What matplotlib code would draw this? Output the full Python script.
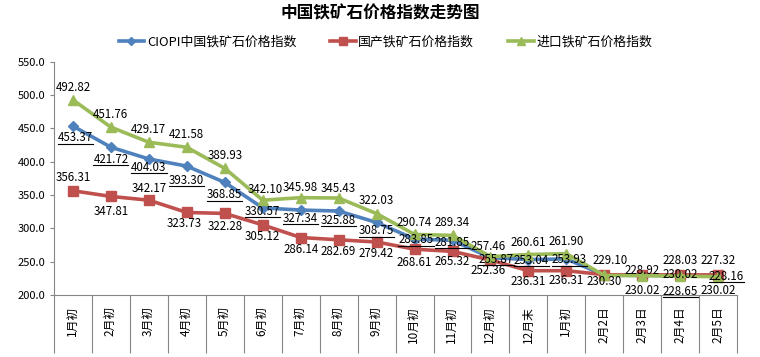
import matplotlib
matplotlib.use("Agg")
import matplotlib.pyplot as plt
from matplotlib.lines import Line2D

plt.rcParams['font.family'] = ['Noto Sans CJK SC', 'DejaVu Sans']

title = "中国铁矿石价格指数走势图"
categories = ["1月初", "2月初", "3月初", "4月初", "5月初", "6月初", "7月初", "8月初", "9月初",
              "10月初", "11月初", "12月初", "12月末", "1月初", "2月2日", "2月3日", "2月4日", "2月5日"]
series_names = ["CIOPI中国铁矿石价格指数", "国产铁矿石价格指数", "进口铁矿石价格指数"]

ciopi = [453.37, 421.72, 404.03, 393.30, 368.85, 330.57, 327.34, 325.88, 308.75,
         283.85, 281.85, 255.87, 253.04, 253.93, 229.6, 229.3, 228.65, 228.16]
ciopi_labeled = [True] * 14 + [False, False, True, True]
domestic = [356.31, 347.81, 342.17, 323.73, 322.28, 305.12, 286.14, 282.69, 279.42,
            268.61, 265.32, 252.36, 236.31, 236.31, 230.30, 230.02, 230.02, 230.02]
imported = [492.82, 451.76, 429.17, 421.58, 389.93, 342.10, 345.98, 345.43, 322.03,
            290.74, 289.34, 257.46, 260.61, 261.90, 229.10, 228.92, 228.03, 227.32]

yticks = [200, 250, 300, 350, 400, 450, 500, 550]

# label offsets (points)
ciopi_off = [(2, -8.5), (0, -8.5), (0, -6), (0, -10), (0, -9), (0, -2.5), (0, -6), (0, -6.5), (0, -6),
             (1, -0.5), (0, -1.5), (4, -1), (2, -0.5), (2, -0.5), (0, 0), (0, 0), (0, -11), (6, 0)]
dom_off = [(0, 9.5), (0, -10.5), (0, 8.5), (-2, -8), (0, -9.5), (0, -8.5), (0, -8.5), (0, -8.5), (0, -8.5),
           (0, -9.5), (0, -7.5), (-2, -7.5), (0, -8), (0, -7), (0, -5), (0, -11), (0, 0), (0, -11)]
imp_off = [(0, 9), (0, 9), (0, 9), (0, 9), (0, 9), (2, 8), (0, 7), (0, 7), (0, 9.5),
           (0, 8.5), (0, 9.5), (-2, 7.5), (0, 8.5), (0, 8.5), (4, 11), (0, 4), (0, 11.5), (0, 12)]

c_blue = "#4F81BD"
c_red = "#C0504D"
c_green = "#9BBB59"

fig = plt.figure(figsize=(7.6, 3.57), dpi=100)
ax = fig.add_axes([0.071, 0.174, 0.899, 0.653])

x = list(range(len(categories)))
ax.plot(x, ciopi, color=c_blue, lw=2.6, marker="D", ms=5.5, label=series_names[0], zorder=3)
ax.plot(x, domestic, color=c_red, lw=2.6, marker="s", ms=7.5, label=series_names[1], zorder=3)
ax.plot(x, imported, color=c_green, lw=2.6, marker="^", ms=7.5, label=series_names[2], zorder=3)

fs = 8.3
blue_texts = []
for i in x:
    if ciopi_labeled[i]:
        t = ax.annotate(f"{ciopi[i]:.2f}", (i, ciopi[i]), xytext=ciopi_off[i], textcoords="offset points",
                        ha="center", va="center", fontsize=fs, zorder=5)
        blue_texts.append(t)
    ax.annotate(f"{domestic[i]:.2f}", (i, domestic[i]), xytext=dom_off[i], textcoords="offset points",
                ha="center", va="center", fontsize=fs, zorder=5)
    ax.annotate(f"{imported[i]:.2f}", (i, imported[i]), xytext=imp_off[i], textcoords="offset points",
                ha="center", va="center", fontsize=fs, zorder=5)

ax.set_xlim(-0.5, len(categories) - 0.5)
ax.set_ylim(200, 550)
ax.set_yticks(yticks)
ax.set_yticklabels([f"{v:.1f}" for v in yticks], fontsize=8)
ax.set_xticks(x)
ax.set_xticklabels(categories, rotation=90, fontsize=8.5)
ax.set_xticks([i - 0.5 for i in range(len(categories) + 1)], minor=True)
ax.tick_params(axis="x", which="major", length=0, pad=8)
ax.tick_params(axis="x", which="minor", length=42, color="#868686", width=0.8)
ax.tick_params(axis="y", length=3, color="#868686", width=0.8, pad=3)
for s in ["top", "right"]:
    ax.spines[s].set_visible(False)
for s in ["left", "bottom"]:
    ax.spines[s].set_color("#868686")
    ax.spines[s].set_linewidth(0.8)

fig.text(0.5, 0.962, title, ha="center", va="center", fontsize=12, fontweight="bold")
leg = fig.legend(loc="center", bbox_to_anchor=(0.507, 0.882), ncol=3, frameon=False, fontsize=9.3,
                 handlelength=2.0, columnspacing=2.6, handletextpad=0.2, markerscale=0.75)

# underline blue labels
fig.canvas.draw()
r = fig.canvas.get_renderer()
for t in blue_texts:
    bb = t.get_window_extent(r)
    y0 = (bb.y0 + 0.5) / fig.bbox.height
    fig.add_artist(Line2D([bb.x0 / fig.bbox.width, bb.x1 / fig.bbox.width], [y0, y0],
                          color="black", lw=0.8, zorder=6))

fig.savefig("out.png", dpi=100)
